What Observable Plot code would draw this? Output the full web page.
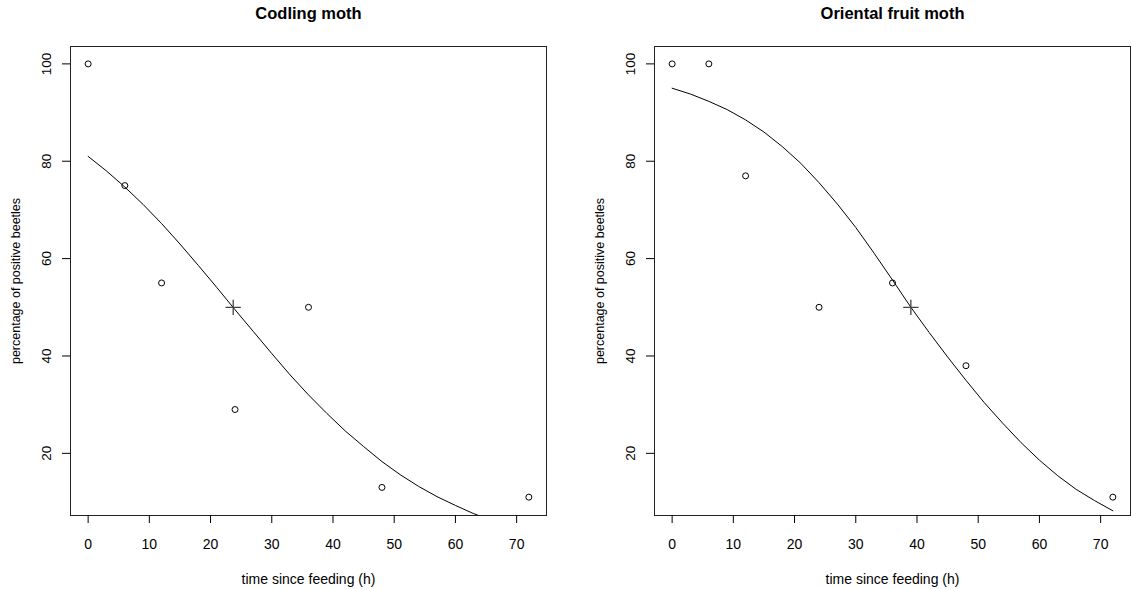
<!DOCTYPE html>
<html><head><meta charset="utf-8">
<script src="https://cdn.jsdelivr.net/npm/d3@7"></script>
<script src="https://cdn.jsdelivr.net/npm/@observablehq/plot@0.6"></script>
<style>
body{margin:0;background:#fff}
#wrap{display:flex;width:1131px;height:589px;overflow:hidden}
#wrap svg{display:block;flex:none}
</style>
</head><body><div id="wrap"></div>
<script>
// observed data
const hours = [0, 6, 12, 24, 36, 48, 72];
const codlingPct = [100, 75, 55, 29, 50, 13, 11];
const orientalPct = [100, 100, 77, 50, 55, 38, 11];
// fitted curves
const curveHours = [0, 3, 6, 9, 12, 15, 18, 21, 24, 27, 30, 33, 36, 39, 42, 45, 48, 51, 54, 57, 60, 63, 66, 69, 72];
const codlingFit = [81.0, 78.0, 74.7, 71.1, 67.2, 63.0, 58.6, 54.1, 49.5, 45.0, 40.5, 36.1, 32.0, 28.2, 24.6, 21.4, 18.3, 15.6, 13.2, 11.1, 9.3, 7.6, 6.2, 5.1, 4.1];
const orientalFit = [95.0, 93.8, 92.3, 90.6, 88.5, 86.0, 83.0, 79.6, 75.6, 71.2, 66.4, 61.1, 55.6, 50.0, 44.8, 39.8, 35.0, 30.4, 26.2, 22.2, 18.6, 15.4, 12.6, 10.3, 8.2];
// LT50 markers
const codlingLT50 = {h: 23.7, pct: 50};
const orientalLT50 = {h: 39.0, pct: 50};
// axes
const xTicks = [0, 10, 20, 30, 40, 50, 60, 70];
const yTicks = [20, 40, 60, 80, 100];
const titles = ["Codling moth", "Oriental fruit moth"];
const xLabel = "time since feeding (h)";
const yLabel = "percentage of positive beetles";

const FONT = "'Liberation Sans', Arial, Helvetica, sans-serif";

function panel(title, pct, fit, lt50, width, mLeft, mRight) {
  const pts = hours.map((h, i) => ({h, p: pct[i]}));
  const curve = curveHours.map((h, i) => ({h, p: fit[i]}));
  return Plot.plot({
    width, height: 589,
    marginLeft: mLeft, marginRight: mRight, marginTop: 46, marginBottom: 74,
    style: {fontFamily: FONT, fontSize: "14px", color: "#000", background: "#fff"},
    x: {domain: [-2.88, 74.88], label: null},
    y: {domain: [7.23, 103.57], label: null},
    marks: [
      Plot.line(curve, {x: "h", y: "p", stroke: "#000", strokeWidth: 1, clip: true}),
      Plot.dot(pts, {x: "h", y: "p", r: 3, stroke: "#000", strokeWidth: 1, fill: "none"}),
      Plot.dot([lt50], {x: "h", y: "pct", symbol: "plus", r: 5, stroke: "#444", strokeWidth: 1.3}),
      Plot.frame({stroke: "#222", strokeWidth: 1}),
      Plot.axisX({ticks: xTicks, tickSize: 8, tickPadding: 16, fontSize: 14, label: null, tickFormat: d => String(d)}),
      Plot.axisY({ticks: yTicks, tickSize: 8, label: null, tickFormat: () => ""}),
      Plot.text(yTicks, {y: d => d, text: d => String(d), frameAnchor: "left", dx: -24, rotate: -90, textAnchor: "middle", lineAnchor: "middle", fontSize: 13.5}),
      Plot.text([yLabel], {text: d => d, frameAnchor: "left", dx: -55, rotate: -90, textAnchor: "middle", lineAnchor: "middle", fontSize: 12.5}),
      Plot.text([xLabel], {text: d => d, frameAnchor: "bottom", dy: 64, lineAnchor: "middle", fontSize: 14}),
      Plot.text([title], {text: d => d, frameAnchor: "top", dy: -33, lineAnchor: "middle", fontSize: 16.5, fontWeight: "bold"})
    ]
  });
}

const wrap = document.getElementById("wrap");
wrap.append(panel(titles[0], codlingPct, codlingFit, codlingLT50, 566, 70, 20));
wrap.append(panel(titles[1], orientalPct, orientalFit, orientalLT50, 565, 88, 1));
</script>
</body></html>
